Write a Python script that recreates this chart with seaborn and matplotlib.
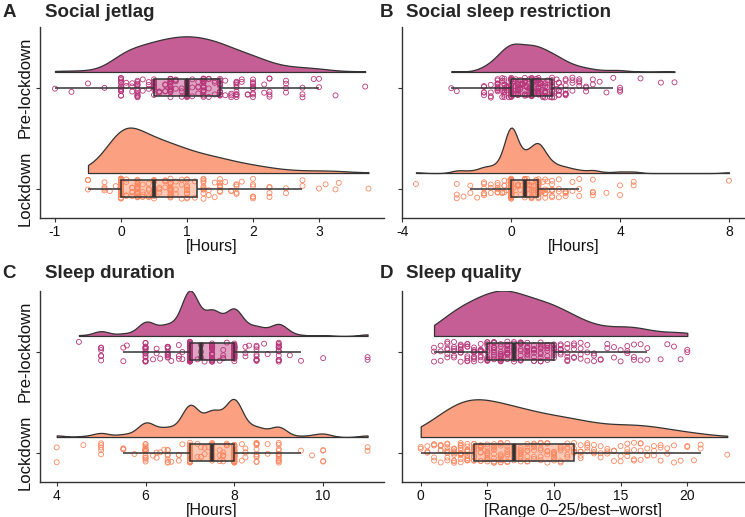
import numpy as np
import pandas as pd
import matplotlib
matplotlib.use("Agg")
import matplotlib.pyplot as plt
import matplotlib.transforms as mtransforms
import seaborn as sns

sns.set_theme(style="ticks")
plt.rcParams["font.family"] = ["Liberation Sans", "DejaVu Sans"]
plt.rcParams["axes.unicode_minus"] = False

PERIODS = ["Pre-lockdown", "Lockdown"]
COLORS = {"Pre-lockdown": "#B63679", "Lockdown": "#FB8861"}
DARK = "#333333"

# --- A: social jetlag [hours] (value, count) ---
jetlag_pre_vals = [-1.0, -0.75, -0.5, -0.25, 0.0, 0.08, 0.17, 0.25, 0.33, 0.42, 0.5,
                   0.58, 0.67, 0.75, 0.83, 0.92, 1.0, 1.08, 1.17, 1.25, 1.33, 1.42, 1.5,
                   1.58, 1.67, 1.75, 1.83, 1.92, 2.0, 2.17, 2.25, 2.5, 2.75, 2.92, 3.0,
                   3.25, 3.7]
jetlag_pre_n = [1, 1, 1, 1, 14, 2, 3, 12, 2, 3, 16,
                3, 4, 16, 4, 3, 20, 3, 4, 16, 4, 3, 16,
                2, 3, 10, 2, 2, 10, 2, 5, 4, 3, 1, 2,
                1, 1]
jetlag_lock_vals = [-0.5, -0.25, -0.17, -0.08, 0.0, 0.08, 0.17, 0.25, 0.33, 0.42, 0.5,
                    0.58, 0.67, 0.75, 0.83, 0.92, 1.0, 1.12, 1.25, 1.33, 1.42, 1.5,
                    1.58, 1.67, 1.75, 1.83, 2.0, 2.25, 2.5, 2.75, 3.0, 3.1, 3.25, 3.3, 3.75]
jetlag_lock_n = [4, 4, 1, 1, 45, 4, 5, 16, 5, 5, 18,
                 3, 4, 14, 3, 3, 13, 2, 10, 2, 2, 8,
                 1, 2, 5, 1, 6, 4, 2, 2, 1, 1, 1, 1, 1]

# --- B: social sleep restriction [hours] ---
restr_pre_vals = [-2.2, -2.0, -1.0, -0.75, -0.5, -0.33, -0.25, -0.17, -0.08, 0.0,
                  0.08, 0.17, 0.25, 0.33, 0.42, 0.5, 0.58, 0.67, 0.75,
                  0.83, 0.92, 1.0, 1.08, 1.17, 1.25, 1.33, 1.42, 1.5,
                  1.58, 1.67, 1.75, 1.83, 2.0, 2.25, 2.5, 2.75, 3.0, 3.25, 3.5, 3.75,
                  4.0, 4.75, 5.5, 6.0]
restr_pre_n = [1, 1, 5, 4, 10, 4, 10, 3, 2, 20,
               3, 4, 10, 4, 3, 8, 3, 4, 14,
               4, 3, 12, 3, 3, 8, 2, 1, 12,
               2, 2, 6, 1, 8, 4, 4, 3, 2, 1, 1, 1,
               3, 1, 1, 1]
restr_lock_vals = [-3.5, -2.0, -1.75, -1.5, -1.25, -1.0, -0.75, -0.5, -0.33, -0.25, -0.17,
                   -0.08, 0.0, 0.08, 0.17, 0.25, 0.33, 0.42, 0.5, 0.58, 0.67, 0.75, 0.83,
                   0.92, 1.0, 1.08, 1.17, 1.25, 1.33, 1.5, 1.75, 2.0, 2.25, 2.5, 3.0, 3.5,
                   4.0, 4.5, 8.0]
restr_lock_n = [1, 3, 1, 2, 1, 6, 3, 6, 2, 4, 1,
                1, 55, 1, 1, 4, 1, 1, 12, 2, 3, 7, 3,
                2, 24, 2, 2, 6, 2, 7, 4, 5, 2, 3, 4, 1,
                2, 2, 1]

# --- C: sleep duration [hours] ---
dur_pre_vals = [4.5, 5.0, 5.5, 5.58, 6.0, 6.17, 6.25, 6.33, 6.5, 6.58, 6.75, 6.83,
                7.0, 7.17, 7.25, 7.33, 7.5, 7.67, 7.75, 7.83, 8.0, 8.25, 8.33, 8.5,
                8.67, 8.75, 9.0, 9.25, 9.5, 10.0, 11.0]
dur_pre_n = [1, 6, 2, 1, 16, 1, 2, 1, 10, 1, 3, 2,
             52, 1, 3, 1, 27, 1, 4, 1, 30, 3, 1, 9,
             1, 1, 14, 1, 1, 1, 2]
dur_lock_vals = [4.0, 4.6, 5.0, 5.5, 5.75, 6.0, 6.17, 6.25, 6.33, 6.42, 6.5, 6.58, 6.75,
                 6.83, 7.0, 7.17, 7.25, 7.33, 7.42, 7.5, 7.67, 7.75, 7.83, 8.0, 8.17,
                 8.25, 8.5, 8.75, 9.0, 9.5, 9.75, 10.0, 11.0]
dur_lock_n = [2, 1, 5, 3, 1, 16, 1, 2, 1, 1, 7, 1, 3,
              1, 35, 2, 3, 2, 1, 24, 3, 5, 3, 40, 2,
              3, 10, 2, 12, 1, 1, 4, 2]

# --- D: sleep quality [score 0-25] ---
qual_pre_vals = [1.0, 1.5, 2.0, 2.5, 3.0, 3.5, 4.0, 4.5, 5.0, 5.5, 6.0, 6.5, 7.0, 7.5,
                 8.0, 8.5, 9.0, 9.5, 10.0, 10.5, 11.0, 11.5, 12.0, 12.5, 13.0, 13.5,
                 14.0, 14.5, 15.0, 15.5, 16.0, 16.5, 17.0, 18.0, 18.5, 19.0, 19.5, 20.0]
qual_pre_n = [3, 3, 6, 6, 8, 8, 9, 9, 11, 11, 12, 12, 11, 10,
              9, 9, 9, 8, 8, 7, 6, 5, 4, 3, 3, 2,
              2, 2, 2, 3, 3, 2, 2, 1, 1, 1, 1, 2]
qual_lock_vals = [0.0, 0.5, 1.0, 1.5, 2.0, 2.5, 3.0, 3.5, 4.0, 4.5, 5.0, 5.5, 6.0, 6.5,
                  7.0, 7.5, 8.0, 8.5, 9.0, 9.5, 10.0, 10.5, 11.0, 11.5, 12.0, 12.5,
                  13.0, 13.5, 14.0, 14.5, 15.0, 15.5, 16.0, 16.5, 17.0, 17.5, 18.0,
                  18.5, 19.0, 19.5, 20.0, 20.5, 21.0, 23.0]
qual_lock_n = [2, 3, 5, 6, 8, 10, 12, 12, 12, 11, 10, 10, 9, 8,
               10, 8, 7, 7, 6, 6, 7, 5, 5, 6, 5, 4,
               4, 3, 3, 3, 3, 4, 4, 4, 3, 3, 3,
               2, 2, 1, 2, 1, 2, 1]


def make_frame(pre_vals, pre_n, lock_vals, lock_n):
    pre = np.repeat(pre_vals, pre_n)
    lock = np.repeat(lock_vals, lock_n)
    return pd.DataFrame({
        "value": np.concatenate([pre, lock]),
        "period": [PERIODS[0]] * len(pre) + [PERIODS[1]] * len(lock),
    })


def nrd0_adjust(x, factor=1.0):
    # R's bw.nrd0 expressed against seaborn's scott rule
    sd = np.std(x, ddof=1)
    q75, q25 = np.percentile(x, [75, 25])
    return factor * 0.9 * min(sd, (q75 - q25) / 1.34) / sd


def raincloud(ax, df, xlim, xticks, xlabel, show_labels, bw=1.0):
    # rain: jittered hollow points
    sns.stripplot(data=df, x="value", y="period", hue="period", order=PERIODS,
                  hue_order=PERIODS, palette=COLORS, jitter=0.1, size=3.6,
                  linewidth=0.6, legend=False, ax=ax, zorder=1)
    for coll in ax.collections:
        coll.set_edgecolors(coll.get_facecolors())
        coll.set_facecolors("none")

    # boxes on top of the points
    sns.boxplot(data=df, x="value", y="period", hue="period", order=PERIODS,
                hue_order=PERIODS, palette=COLORS, saturation=1, width=0.17,
                showfliers=False, showcaps=False, linecolor=DARK, linewidth=1.1,
                medianprops={"linewidth": 2.6}, legend=False, ax=ax)
    for patch in ax.patches:
        r, g, b, _ = patch.get_facecolor()
        patch.set_facecolor((r, g, b, 0.45))
        patch.set_zorder(3)
    for line in ax.lines:
        line.set_zorder(4)

    # clouds: half densities above each box, common (area) scaling
    peaks, arts = [], []
    for i, period in enumerate(PERIODS):
        x = df.loc[df["period"] == period, "value"].to_numpy()
        sns.kdeplot(x=x, ax=ax, fill=True, cut=0, bw_adjust=nrd0_adjust(x, bw),
                    color=COLORS[period], alpha=0.8, edgecolor=DARK, linewidth=0.9)
        art = ax.collections[-1]
        peaks.append(art.get_paths()[0].vertices[:, 1].max())
        arts.append((i, art))
    scale = 0.45 / max(peaks)
    for i, art in arts:
        tr = mtransforms.Affine2D().scale(1, -scale).translate(0, i - 0.155)
        art.set_transform(tr + ax.transData)

    ax.set_xlim(xlim)
    ax.set_xticks(xticks)
    ax.set_xticklabels([f"{t:g}" for t in xticks])
    ax.set_ylim(1.29, -0.6)
    ax.set_yticks([0, 1])
    ax.set_xlabel(xlabel, fontsize=11.5, labelpad=0, color="#111111")
    ax.set_ylabel("")
    sns.despine(ax=ax)
    for side in ["left", "bottom"]:
        ax.spines[side].set_color(DARK)
        ax.spines[side].set_linewidth(1.0)
    ax.tick_params(length=3, width=0.8, color=DARK, pad=2, labelcolor="#111111")
    ax.tick_params(axis="x", labelsize=10)
    if show_labels:
        ax.set_yticklabels(PERIODS, rotation=90, va="center", fontsize=12)
    else:
        ax.set_yticklabels([])


np.random.seed(3)
fig = plt.figure(figsize=(7.45, 5.17), dpi=100)
W, H = 745, 517


def add_axes(left_px, right_px, bottom_px):
    return fig.add_axes([left_px / W, 1 - bottom_px / H,
                         (right_px - left_px) / W, 191 / H])


panels = [
    ("A", "Social jetlag", make_frame(jetlag_pre_vals, jetlag_pre_n, jetlag_lock_vals, jetlag_lock_n),
     (40, 384, 218), (-1.227, 3.985), [-1, 0, 1, 2, 3], "[Hours]", True, 1.0),
    ("B", "Social sleep restriction", make_frame(restr_pre_vals, restr_pre_n, restr_lock_vals, restr_lock_n),
     (401.5, 745, 218), (-4.03, 8.59), [-4, 0, 4, 8], "[Hours]", False, 1.0),
    ("C", "Sleep duration", make_frame(dur_pre_vals, dur_pre_n, dur_lock_vals, dur_lock_n),
     (40, 384, 482), (3.624, 11.37), [4, 6, 8, 10], "[Hours]", True, 0.8),
    ("D", "Sleep quality", make_frame(qual_pre_vals, qual_pre_n, qual_lock_vals, qual_lock_n),
     (401.5, 745, 482), (-1.44, 24.33), [0, 5, 10, 15, 20], "[Range 0\u201325/best\u2013worst]", False, 1.0),
]

title_pos = {"A": (2.5, 45, 17), "B": (380, 406, 17), "C": (2.5, 45, 278), "D": (380, 406, 278)}

for letter, title, df, (l, r, b), xlim, xticks, xlabel, show, bw in panels:
    ax = add_axes(l, r, b)
    raincloud(ax, df, xlim, xticks, xlabel, show, bw)
    lx, tx, ty = title_pos[letter]
    fig.text(lx / W, 1 - ty / H, letter, fontsize=13.5, weight="bold", va="baseline")
    fig.text(tx / W, 1 - ty / H, title, fontsize=13.5, weight="bold", va="baseline")

fig.savefig("out.png", dpi=100)
